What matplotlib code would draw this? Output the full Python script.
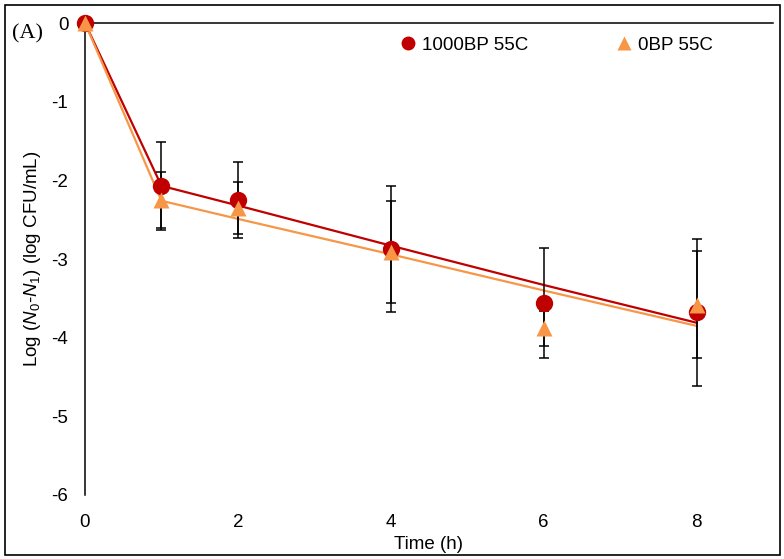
import matplotlib
matplotlib.use("Agg")
import matplotlib.pyplot as plt
from matplotlib.lines import Line2D

plt.rcParams['font.family'] = ['Liberation Sans', 'DejaVu Sans']
plt.rcParams['mathtext.fontset'] = 'custom'
plt.rcParams['mathtext.rm'] = 'Liberation Sans'
plt.rcParams['mathtext.it'] = 'Liberation Sans:italic'
plt.rcParams['axes.unicode_minus'] = False

time = [0, 1, 2, 4, 6, 8]
bp1000_obs = [0, -2.07, -2.25, -2.87, -3.56, -3.68]
bp1000_err = [0, 0.56, 0.48, 0.80, 0.70, 0.93]
bp1000_fit = [0, -2.07, -2.32, -2.83, -3.33, -3.81]
bp0_obs = [0, -2.25, -2.35, -2.91, -3.88, -3.58]
bp0_err = [0, 0.36, 0.33, 0.65, 0.22, 0.68]
bp0_fit = [0, -2.26, -2.49, -2.94, -3.40, -3.85]
labels = ['1000BP 55C', '0BP 55C']
xticks = [0, 2, 4, 6, 8]
yticks = [0, -1, -2, -3, -4, -5, -6]

red = '#C00000'
orange = '#F79646'
fs = 13.5

fig = plt.figure(figsize=(7.84, 5.59), dpi=100)
ax = fig.add_axes([85/784, 1-495/559, (773-85)/784, (495-23)/559])

ax.plot(time, bp1000_fit, color=red, lw=1.6, zorder=2, clip_on=False)
ax.plot(time, bp0_fit, color=orange, lw=1.6, zorder=2, clip_on=False)
ax.errorbar(time, bp1000_obs, yerr=bp1000_err, fmt='none', ecolor='black',
            elinewidth=1.1, capsize=3.5, capthick=1.1, zorder=3)
ax.errorbar(time, bp0_obs, yerr=bp0_err, fmt='none', ecolor='black',
            elinewidth=1.1, capsize=3.5, capthick=1.1, zorder=3)
ax.plot(time, bp1000_obs, 'o', color=red, ms=12.5, mec='none', zorder=4, clip_on=False)
ax.plot(time, bp0_obs, '^', color=orange, ms=12, mec='none', zorder=5, clip_on=False)

ax.set_xlim(0, 9)
ax.set_ylim(-6, 0)
ax.set_xticks(xticks)
ax.set_yticks(yticks)
for s in ['bottom', 'right']:
    ax.spines[s].set_visible(False)
for s in ['left', 'top']:
    ax.spines[s].set_linewidth(1.1)
    ax.spines[s].set_color('black')
ax.tick_params(axis='x', length=0, pad=14, labelsize=fs, top=False, bottom=True)
ax.tick_params(axis='y', length=0, pad=12, labelsize=fs)
ax.set_xlabel('Time (h)', fontsize=fs, labelpad=3)
ax.set_ylabel(r'Log ($N_{\mathit{0}}$-$N_{\mathit{1}}$) (log CFU/mL)', fontsize=fs, labelpad=6)

fig.text(12/784, 1-34/559, '(A)', family='Liberation Serif', fontsize=16, va='center', ha='left')

handles = [Line2D([], [], marker='o', ls='none', color=red, ms=10, mec='none'),
           Line2D([], [], marker='^', ls='none', color=orange, ms=10, mec='none')]
fig.legend(handles, labels, ncol=2, frameon=False, fontsize=fs, loc='center',
           bbox_to_anchor=(556/784, 1-45/559), handletextpad=0.25, columnspacing=4.6,
           handlelength=1.0)

fig.patches.append(plt.Rectangle((5/784, 4/559), 775/784, 550/559, transform=fig.transFigure,
                                 fill=False, ec='black', lw=1.2))

fig.savefig('out.png', dpi=100)
